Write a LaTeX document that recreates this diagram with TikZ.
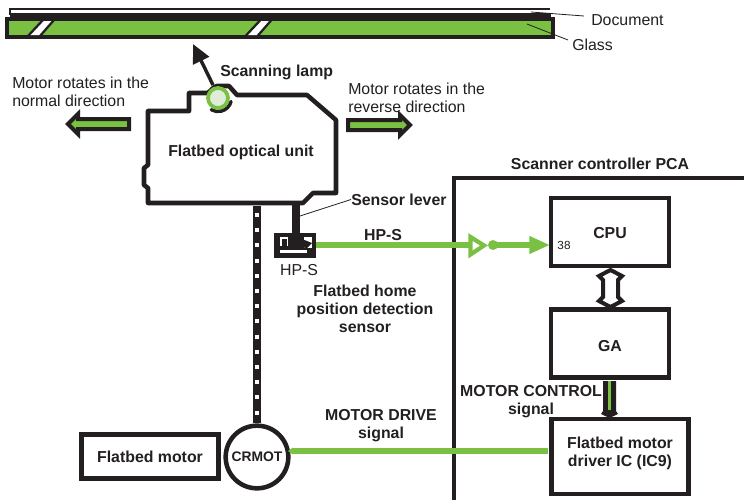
\documentclass[tikz,border=0pt]{standalone}
\usepackage{fontspec}
\setmainfont{Liberation Sans}
\usetikzlibrary{arrows.meta}
\definecolor{gr}{HTML}{7AC143}
\definecolor{ink}{HTML}{231F20}
\definecolor{lampfill}{HTML}{E0EBD8}
\tikzset{
  outline/.style={draw=ink,line width=3.4pt,line join=round},
  boxn/.style={draw=ink,line width=3.4pt,fill=white,inner sep=0pt},
  blab/.style={font=\bfseries\fontsize{11.9}{13.5}\selectfont,text=ink,align=center,inner sep=0pt},
  rlab/.style={font=\fontsize{11.9}{13.5}\selectfont,text=ink,align=left,inner sep=0pt},
  lead/.style={draw=ink,line width=0.6pt},
  sig/.style={draw=gr,line width=3.8pt},
  garrow/.style={draw=ink,line width=3pt,fill=gr,line join=miter}
}
\begin{document}
\begin{tikzpicture}[x=0.75pt,y=-0.75pt]
\useasboundingbox (0,0) rectangle (744,500);
% document and glass
\draw[draw=ink,line width=2pt] (10,15) -- (10,9) -- (550,9);
\draw[draw=ink,line width=2.6pt] (10,15) -- (551,15);
\node[draw=ink,line width=3pt,fill=gr,minimum width=409pt,minimum height=13.5pt,inner sep=0pt] (glass) at (280,28) {};
\foreach \x in {0,217.5}{
  \fill[white] (\x+42,21) -- (\x+53,21) -- (\x+40,35) -- (\x+28,35) -- cycle;
  \draw[ink,line width=1.7pt] (\x+43,20) -- (\x+28,36) (\x+54,20) -- (\x+40,36);
}
\coordinate (docpt) at (531,12);
\coordinate (docend) at (584,16);
\coordinate (glasspt) at (527,24);
\coordinate (glassend) at (568,40);
\node[rlab,anchor=west] (doclab) at (591,20.5) {Document};
\node[rlab,anchor=west] (glasslab) at (572,45) {Glass};
\draw[lead] (docpt) -- (docend);
\draw[lead] (glasspt) -- (glassend);
% shaft behind unit
\coordinate (shafttop) at (257,206);
\node[draw=ink,line width=3.4pt,fill=white,circle,minimum size=47pt,inner sep=0pt,blab,font=\bfseries\fontsize{10.4}{12}\selectfont] (crmot) at (257,457) {CRMOT};
\coordinate (shaftend) at (257,420);
\draw[ink,line width=6pt] (shafttop) -- (crmot.north);
\draw[white,line width=3pt,dash pattern=on 3pt off 8.4pt,dash phase=6.15pt] (shafttop) -- (shaftend);
% optical unit
\draw[outline] (148,165) -- (148,111) -- (189,111) -- (189,93) -- (207,93)
  .. controls (211,92) and (212,87) .. (217,86) -- (229,86) -- (237,95) -- (307,95)
  -- (336,120) -- (336,193) -- (313,193) -- (303,203) -- (148,203) -- (148,188)
  -- (144,185) -- (144,168) -- cycle;
\node[blab] (unit) at (241,152.5) {Flatbed optical unit};
% lamp
\draw[ink,line width=2.6pt,line cap=round] (218,98) ++(15:13.5) arc[start angle=15,end angle=120,radius=13.5];
\node[circle,draw=gr,line width=2.8pt,fill=lampfill,minimum size=15pt,inner sep=0pt] (lamp) at (218,98) {};
\coordinate (beam) at (193,44);
\coordinate (beamfoot) at (213,85);
\draw[ink,line width=2.6pt,-{Triangle[length=14pt,width=13pt]}] (beamfoot) -- (beam);
\node[blab,anchor=west] (lamplab) at (220,72.5) {Scanning lamp};
% motor arrows
\node[rlab,anchor=north west] (normlab) at (12,77) {Motor rotates in the\\normal direction};
\node[rlab,anchor=north west] (revlab) at (348,83) {Motor rotates in the\\reverse direction};
\draw[garrow] (129,119) -- (78,119) -- (78,114) -- (68,124) -- (78,134) -- (78,129) -- (129,129) -- cycle;
\draw[garrow] (348,120) -- (400,120) -- (400,115) -- (410,125) -- (400,135) -- (400,130) -- (348,130) -- cycle;
% controller PCA
\coordinate (pcabl) at (454,500);
\coordinate (pcatr) at (744,178);
\draw[draw=ink,line width=3.2pt] (pcabl) -- (454,178) -- (pcatr);
\node[blab] (pcalab) at (600,163.5) {Scanner controller PCA};
% sensor
\node[fill=ink,minimum width=31pt,minimum height=19pt,inner sep=0pt] (sensor) at (295,245.5) {};
\coordinate (levertop) at (296,203);
\draw[ink,line width=6pt] (levertop) -- (296,247);
\fill[white] (280,237) rectangle (288,246);
\fill[ink] (282,239) rectangle (287,246);
\fill[white] (280,250) rectangle (307,253);
\fill[white] (304,237) -- (312,237) -- (312,248) -- (304,248) -- cycle;
\fill[ink] (302,239) -- (312,243) -- (305,250) -- cycle;
\node[rlab,anchor=center] (hpsl) at (299,270.5) {HP-S};
\node[blab,anchor=west] (leverlab) at (351,199.5) {Sensor lever};
\coordinate (leverpt) at (300,216);
\draw[lead] (leverpt) -- (leverlab.west);
\node[blab,align=center] (homelab) at (365,308.5) {Flatbed home\\position detection\\sensor};
% boxes
\node[boxn,minimum width=88.5pt,minimum height=51pt] (cpu) at (610,232) {};
\node[blab] (cputxt) at (610,233.5) {CPU};
\node[rlab,font=\fontsize{8.8}{10}\selectfont] (pin) at (564,245) {38};
\node[boxn,minimum width=88.5pt,minimum height=51pt] (ga) at (610,343.5) {};
\node[blab] (gatxt) at (610,346.5) {GA};
\node[boxn,minimum width=103pt,minimum height=56pt] (driver) at (620,456.5) {};
\node[blab] (drvtxt) at (620,453) {Flatbed motor\\driver IC (IC9)};
\node[boxn,minimum width=103pt,minimum height=33pt,blab] (motor) at (150,456.5) {Flatbed motor};
% HP-S signal
\coordinate (bufin) at (470,245);
\coordinate (bubble) at (493,245);
\coordinate (cpupin) at (550,245);
\draw[sig] (sensor.east |- bufin) -- (bufin);
\draw[draw=gr,line width=3.2pt,fill=white,line join=miter] (470.5,237) -- (484,245.5) -- (470.5,254.5) -- cycle;
\fill[gr] (bubble) circle[radius=5];
\draw[draw=gr,line width=3.8pt,-{Triangle[length=15.5pt,width=12.5pt]}] (bubble) -- (cpupin);
\node[blab] (hpstop) at (383,235) {HP-S};
% CPU GA bus
\draw[ink,line width=3pt,fill=white,line join=miter]
  (610.5,270) -- (622,276) -- (618,280) -- (618,297) -- (622,301) -- (610.5,307) -- (599,301) -- (603,297) -- (603,280) -- (599,276) -- cycle;
% control
\coordinate (gaout) at (609.5,381);
\coordinate (drvin) at (609.5,417);
\fill[ink] (603,381) -- (616,381) -- (616,411) -- (618,414) -- (609.5,418) -- (601,414) -- (603,411) -- cycle;
\draw[draw=gr,line width=2.2pt] (gaout) -- (609.5,410);
\node[blab,anchor=center] (ctrllab) at (531,402) {MOTOR CONTROL\\signal};
% motor drive
\coordinate (drvsig) at (548,451);
\coordinate (motsig) at (293,451);
\draw[draw=gr,line width=5.2pt] (motsig) -- (drvsig);
\fill[gr] (293,447.5) -- (288,451) -- (293,454.5) -- cycle;
\node[blab] (drivelab) at (381,425.5) {MOTOR DRIVE\\signal};
\end{tikzpicture}
\end{document}
